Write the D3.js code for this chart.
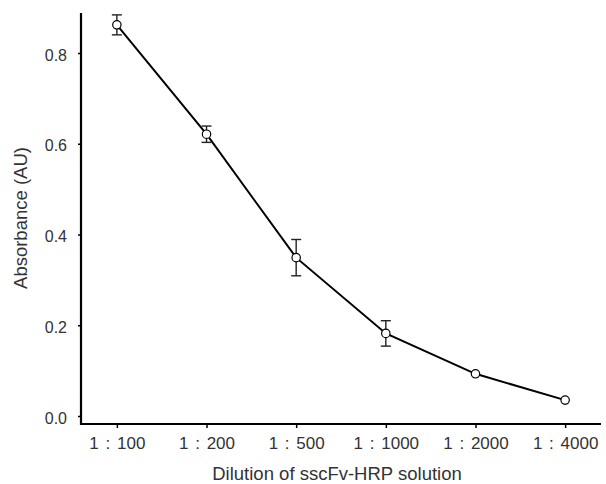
<!DOCTYPE html>
<html>
<head>
<meta charset="utf-8">
<script src="https://cdn.jsdelivr.net/npm/d3@7"></script>
<style>
  html, body { margin: 0; padding: 0; background: #fff; }
  svg { display: block; }
  text { font-family: "Liberation Sans", Arial, sans-serif; fill: #333; }
</style>
</head>
<body>
<svg id="chart" width="606" height="484"></svg>
<script>
// ---- data ----
const categories = ["1 : 100", "1 : 200", "1 : 500", "1 : 1000", "1 : 2000", "1 : 4000"];
const absorbance = [0.862, 0.621, 0.349, 0.182, 0.093, 0.035];
const errors     = [0.022, 0.018, 0.040, 0.028, 0, 0];
const yTicks     = [0.0, 0.2, 0.4, 0.6, 0.8];
const xTitle = "Dilution of sscFv-HRP solution";
const yTitle = "Absorbance (AU)";

// ---- layout ----
const axisX = 81, axisY = 424, axisTop = 13, axisRight = 601;
const svg = d3.select("#chart");

const x = d3.scalePoint().domain(categories).range([axisX, axisRight]).padding(0.4);
const y = d3.scaleLinear().domain([0, 0.8]).range([416, 53]);

const data = categories.map((c, i) => ({ c, v: absorbance[i], e: errors[i] }));

// axes frame
svg.append("line").attr("x1", axisX).attr("x2", axisX).attr("y1", axisTop).attr("y2", axisY + 1)
  .attr("stroke", "#000").attr("stroke-width", 2.2);
svg.append("line").attr("x1", axisX - 1).attr("x2", axisRight).attr("y1", axisY).attr("y2", axisY)
  .attr("stroke", "#000").attr("stroke-width", 2.2);

// y axis ticks
const yAxis = svg.append("g").attr("transform", `translate(${axisX},0)`)
  .call(d3.axisLeft(y).tickValues(yTicks).tickFormat(d3.format(".1f")).tickSize(3).tickPadding(11));
yAxis.select(".domain").remove();
yAxis.selectAll(".tick line").attr("stroke", "#000").attr("stroke-width", 1.5);
yAxis.selectAll(".tick text").attr("font-size", 16).attr("dy", "0.45em")
  .style("font-family", "'Liberation Sans', Arial, sans-serif").attr("fill", "#333");

// x axis ticks
const xAxis = svg.append("g").attr("transform", `translate(0,${axisY})`)
  .call(d3.axisBottom(x).tickSize(4).tickPadding(9));
xAxis.select(".domain").remove();
xAxis.selectAll(".tick line").attr("stroke", "#000").attr("stroke-width", 1.5);
xAxis.selectAll(".tick text").attr("font-size", 17).style("word-spacing", "2px")
  .style("font-family", "'Liberation Sans', Arial, sans-serif").attr("fill", "#333");

// titles
svg.append("text").attr("x", (axisX + axisRight) / 2 - 4).attr("y", 480)
  .attr("text-anchor", "middle").attr("font-size", 18.5).text(xTitle);
svg.append("text").attr("transform", "translate(27,218) rotate(-90)")
  .attr("text-anchor", "middle").attr("font-size", 18.5).text(yTitle);

// line
const line = d3.line().x(d => x(d.c)).y(d => y(d.v));
svg.append("path").datum(data).attr("d", line)
  .attr("fill", "none").attr("stroke", "#000").attr("stroke-width", 2);

// error bars
const eb = svg.append("g").attr("stroke", "#222").attr("stroke-width", 1.4);
const withErr = data.filter(d => d.e > 0);
eb.selectAll("line.v").data(withErr).join("line")
  .attr("x1", d => x(d.c)).attr("x2", d => x(d.c))
  .attr("y1", d => y(d.v + d.e)).attr("y2", d => y(d.v - d.e));
eb.selectAll("line.t").data(withErr).join("line")
  .attr("x1", d => x(d.c) - 5).attr("x2", d => x(d.c) + 5)
  .attr("y1", d => y(d.v + d.e)).attr("y2", d => y(d.v + d.e));
eb.selectAll("line.b").data(withErr).join("line")
  .attr("x1", d => x(d.c) - 5).attr("x2", d => x(d.c) + 5)
  .attr("y1", d => y(d.v - d.e)).attr("y2", d => y(d.v - d.e));

// markers
svg.append("g").selectAll("circle").data(data).join("circle")
  .attr("cx", d => x(d.c)).attr("cy", d => y(d.v)).attr("r", 4.2)
  .attr("fill", "#fff").attr("stroke", "#000").attr("stroke-width", 1.2);
</script>
</body>
</html>
